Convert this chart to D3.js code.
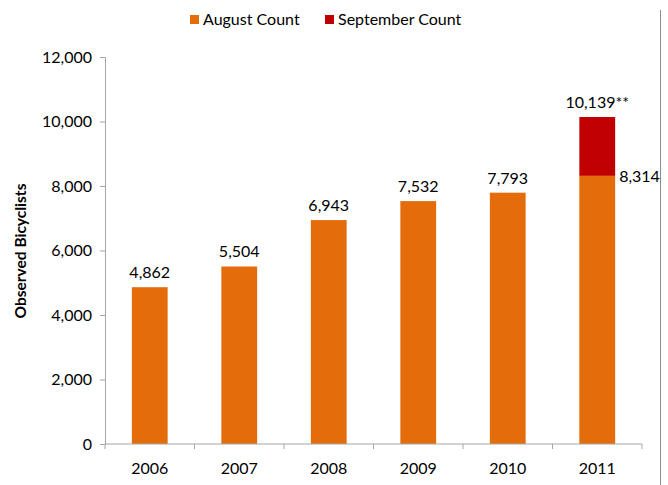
<!DOCTYPE html>
<html>
<head>
<meta charset="utf-8">
<script src="https://cdn.jsdelivr.net/npm/d3@7"></script>
<style>
  body { margin: 0; background: #fff; }
  svg { font-family: Lato, "Open Sans", sans-serif; }
</style>
</head>
<body>
<svg id="chart" width="668" height="485"></svg>
<script>
const years = ["2006", "2007", "2008", "2009", "2010", "2011"];
const augustCount = [4862, 5504, 6943, 7532, 7793, 8314];
const septemberCount = [null, null, null, null, null, 10139];
const yTicks = [0, 2000, 4000, 6000, 8000, 10000, 12000];

let svg = d3.select("#chart"),
    margin = {top: 57, right: 26, bottom: 41, left: 105},
    width = 642 - margin.left,
    height = 444 - margin.top,
    g = svg.append("g").attr("transform", "translate(" + margin.left + "," + margin.top + ")");

let x = d3.scaleBand().domain(years).range([0, width]).paddingInner(0.6).paddingOuter(0.3),
    y = d3.scaleLinear().domain([0, 12000]).range([height, 0]);

let fmt = d3.format(",");
const orange = "#e46c0a", red = "#c00000", axisGray = "#a6a6a6";
const fs = "16px";

// right frame line
svg.append("line")
    .attr("x1", 660.5).attr("x2", 660.5)
    .attr("y1", 10).attr("y2", 485)
    .style("stroke", "#8c8c8c").style("stroke-width", 1);

// september (stacked on top of august)
g.selectAll(".sep")
    .data(years.map((d, i) => ({year: d, aug: augustCount[i], sep: septemberCount[i]})).filter(d => d.sep != null))
    .enter().append("rect")
    .attr("class", "sep")
    .attr("x", d => x(d.year))
    .attr("width", x.bandwidth())
    .attr("y", d => y(d.sep))
    .attr("height", d => y(d.aug) - y(d.sep))
    .attr("fill", red);

g.selectAll(".aug")
    .data(years.map((d, i) => ({year: d, value: augustCount[i]})))
    .enter().append("rect")
    .attr("class", "aug")
    .attr("x", d => x(d.year))
    .attr("width", x.bandwidth())
    .attr("y", d => y(d.value))
    .attr("height", d => height - y(d.value))
    .attr("fill", orange);

// value labels
years.forEach((yr, i) => {
    let sep = septemberCount[i];
    if (sep != null) {
        g.append("text")
            .attr("x", x(yr) + x.bandwidth() / 2)
            .attr("y", y(sep) - 9)
            .attr("text-anchor", "middle")
            .style("font-size", fs).attr("fill", "#000")
            .text(fmt(sep) + "**");
        g.append("text")
            .attr("x", x(yr) + x.bandwidth() + 4)
            .attr("y", y(augustCount[i]) + 6)
            .style("font-size", fs).attr("fill", "#000")
            .text(fmt(augustCount[i]));
    } else {
        g.append("text")
            .attr("x", x(yr) + x.bandwidth() / 2)
            .attr("y", y(augustCount[i]) - 9)
            .attr("text-anchor", "middle")
            .style("font-size", fs).attr("fill", "#000")
            .text(fmt(augustCount[i]));
    }
});

// y axis
let yAxis = g.append("g")
    .call(d3.axisLeft(y).tickValues(yTicks).tickFormat(fmt).tickSize(5).tickPadding(8));
yAxis.selectAll("text").style("font-size", fs).style("font-family", "Lato, 'Open Sans', sans-serif").attr("fill", "#000");
yAxis.selectAll("line, path").attr("stroke", axisGray);

// x axis with ticks between categories
let xAxis = g.append("g").attr("transform", "translate(0," + height + ")");
xAxis.append("line").attr("x1", 0).attr("x2", width).attr("stroke", axisGray);
d3.range(years.length + 1).forEach(i => {
    let px = i * width / years.length;
    xAxis.append("line").attr("x1", px).attr("x2", px).attr("y1", 0).attr("y2", 5).attr("stroke", axisGray);
});
xAxis.selectAll(".lbl")
    .data(years).enter().append("text")
    .attr("x", d => x(d) + x.bandwidth() / 2)
    .attr("y", 30)
    .attr("text-anchor", "middle")
    .style("font-size", fs).attr("fill", "#000")
    .text(d => d);

// y axis title
svg.append("text")
    .attr("transform", "translate(26,251) rotate(-90)")
    .attr("text-anchor", "middle")
    .style("font-size", "15.5px").style("font-weight", "bold").attr("fill", "#000")
    .text("Observed Bicyclists");

// legend
const legend = [{name: "August Count", color: orange, x: 190}, {name: "September Count", color: red, x: 325}];
legend.forEach(l => {
    svg.append("rect").attr("x", l.x).attr("y", 15).attr("width", 9).attr("height", 9).attr("fill", l.color);
    svg.append("text").attr("x", l.x + 13).attr("y", 25)
        .style("font-size", fs).attr("fill", "#000").text(l.name);
});
</script>
</body>
</html>
